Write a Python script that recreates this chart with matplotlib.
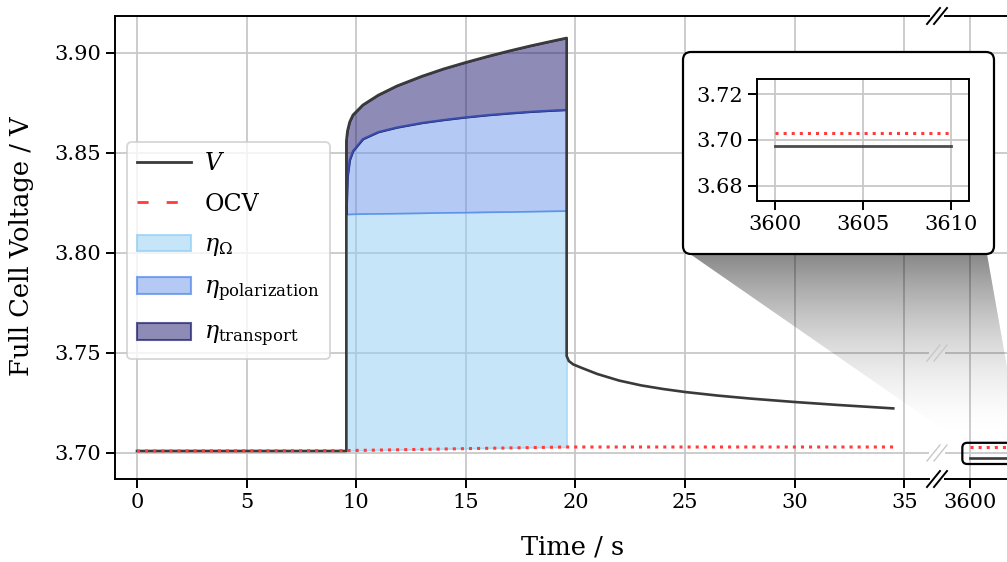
import numpy as np
import matplotlib.pyplot as plt
from matplotlib.colors import to_rgba
from matplotlib.lines import Line2D
from matplotlib.patches import FancyBboxPatch, Patch, Polygon

plt.rcParams['font.family'] = 'DejaVu Serif'
plt.rcParams['mathtext.fontset'] = 'dejavuserif'

# rest before the pulse
t_rest = [0.0, 9.55]
v_rest = [3.701, 3.701]

# current pulse: cell voltage and overpotential boundaries
t_pulse = [9.55, 9.6, 9.7, 9.85, 10.3, 11.0, 11.85, 13.0, 14.0, 15.0, 16.0, 17.0, 18.0, 19.0, 19.6]
v_pulse = [3.856, 3.861, 3.8655, 3.869, 3.874, 3.8789, 3.8835, 3.8884, 3.8921, 3.8953, 3.8983, 3.9011, 3.9037, 3.9061, 3.9075]
pol_pulse = [3.8195, 3.838, 3.8465, 3.851, 3.857, 3.8605, 3.8628, 3.8651, 3.8666, 3.8679, 3.869, 3.8699, 3.8707, 3.8713, 3.8716]
ohm_pulse = [3.8195, 3.8195, 3.8195, 3.8196, 3.8197, 3.8198, 3.8199, 3.8201, 3.8203, 3.8204, 3.8206, 3.8207, 3.8209, 3.8211, 3.8212]
ocv_pulse = [3.7012, 3.7012, 3.7012, 3.7013, 3.7014, 3.7015, 3.7017, 3.7019, 3.7021, 3.7023, 3.7025, 3.7026, 3.7028, 3.7029, 3.7030]

# relaxation after the pulse
t_relax = [19.6, 19.7, 19.9, 20.3, 21.0, 22.0, 23.0, 24.0, 25.0, 26.5, 28.0, 30.0, 32.0, 34.5]
v_relax = [3.7485, 3.746, 3.7443, 3.7425, 3.7395, 3.7362, 3.7338, 3.732, 3.7305, 3.7287, 3.7272, 3.7255, 3.724, 3.7223]

# open circuit voltage
t_ocv = [0.0, 9.55, 19.6, 34.5]
ocv = [3.701, 3.7012, 3.703, 3.703]

# one hour later
t_long = [3600, 3610]
v_long = [3.6974, 3.6974]
ocv_long = [3.7032, 3.7032]

c_v = '#3a3a3a'
c_ocv = '#ff3b3b'
c_ohm = '#8ecdf3'
c_pol = '#6a95e8'
c_tra = '#1e1a6e'

W, H = 1007, 562
fig = plt.figure(figsize=(W / 100, H / 100), dpi=100)


def px(x0, y0, x1, y1):
    return [x0 / W, 1 - y1 / H, (x1 - x0) / W, (y1 - y0) / H]


ax = fig.add_axes(px(115, 16, 929, 479))
ax2 = fig.add_axes(px(945, 16, 1120, 479))

t_v = t_rest + t_pulse + t_relax
v_v = v_rest + v_pulse + v_relax

ax.fill_between(t_pulse, ocv_pulse, ohm_pulse, facecolor=to_rgba(c_ohm, 0.5),
                edgecolor=to_rgba(c_ohm, 0.6), lw=1.2, zorder=2)
ax.fill_between(t_pulse, ohm_pulse, pol_pulse, facecolor=to_rgba(c_pol, 0.5),
                edgecolor=to_rgba('#4f86ea', 0.8), lw=1.2, zorder=2)
ax.fill_between(t_pulse, pol_pulse, v_pulse, facecolor=to_rgba(c_tra, 0.5),
                edgecolor=to_rgba('#1a1a4a', 0.9), lw=1.2, zorder=2)
ax.plot(t_pulse, pol_pulse, color='#3a4cb0', lw=1.4, zorder=2.5)
ax.plot(t_v, v_v, color=c_v, lw=1.9, zorder=3)
ax.plot(t_ocv, ocv, color=c_ocv, lw=2.2, ls=':', zorder=3)

ax2.plot(t_long, v_long, color=c_v, lw=1.9, zorder=3)
ax2.plot(t_long, ocv_long, color=c_ocv, lw=2.2, ls=':', zorder=3)

yticks = [3.70, 3.75, 3.80, 3.85, 3.90]
for a in (ax, ax2):
    a.set_ylim(3.687, 3.9185)
    a.set_yticks(yticks)
    a.grid(True, color='#c8c8c8', lw=1.3)
    a.set_axisbelow(True)
    a.tick_params(direction='out', length=6.5, width=1.4, labelsize=15)
    for s in a.spines.values():
        s.set_linewidth(1.4)

ax.set_xlim(-1.0036, 36.13)
ax.set_xticks([0, 5, 10, 15, 20, 25, 30, 35])
ax.set_yticklabels(['3.70', '3.75', '3.80', '3.85', '3.90'])
ax.spines['right'].set_visible(False)

ax2.set_xlim(3598.86, 3606.84)
ax2.set_xticks([3600])
ax2.spines['left'].set_visible(False)
ax2.tick_params(axis='y', left=False, labelleft=False)

fig.text(573 / W, 1 - 547 / H, 'Time / s', ha='center', va='center', fontsize=18.5)
fig.text(22 / W, 1 - 246 / H, 'Full Cell Voltage / V', ha='center', va='center',
         rotation=90, fontsize=18.5)

handles = [
    Line2D([], [], color=c_v, lw=2),
    Line2D([], [], color=c_ocv, lw=2, ls=(0, (4, 6.5))),
    Patch(facecolor=to_rgba(c_ohm, 0.5), edgecolor=to_rgba(c_ohm, 0.7), lw=1.5),
    Patch(facecolor=to_rgba(c_pol, 0.5), edgecolor=to_rgba('#4f86ea', 0.7), lw=1.5),
    Patch(facecolor=to_rgba(c_tra, 0.5), edgecolor=to_rgba('#1a1a6e', 0.7), lw=1.5),
]
labels = [r'$V$', 'OCV', r'$\eta_\Omega$', r'$\eta_\mathrm{polarization}$', r'$\eta_\mathrm{transport}$']
leg = ax.legend(handles, labels, loc='upper left', bbox_to_anchor=(0.0147, 0.728),
                borderaxespad=0, fontsize=17, handlelength=2.3, labelspacing=0.75,
                borderpad=0.42, handletextpad=0.55,
                framealpha=0.8, edgecolor='#cccccc', fancybox=True)
leg.get_frame().set_linewidth(1.3)

# axis break marks
def brk(y, color, lw):
    for cx in (933.5, 940.5):
        fig.add_artist(Line2D([(cx - 6.5) / 100, (cx + 6.5) / 100],
                              [(H - y - 8) / 100, (H - y + 8) / 100],
                              transform=fig.dpi_scale_trans, color=color, lw=lw, zorder=5))


brk(16, 'black', 1.4)
brk(479, 'black', 1.4)
brk(353, '#c8c8c8', 1.0)
brk(453, '#c8c8c8', 1.0)

# zoomed view of the long-time values
bx0, by0, bx1, by1 = 683, 52, 994, 254
fig.add_artist(FancyBboxPatch((bx0 / 100, (H - by1) / 100), (bx1 - bx0) / 100, (by1 - by0) / 100,
                              boxstyle='round,pad=0,rounding_size=0.08', transform=fig.dpi_scale_trans,
                              facecolor='white', edgecolor='black', lw=1.6, zorder=3))

axins = fig.add_axes(px(757, 79, 969, 201), zorder=4)
axins.plot(t_long, v_long, color=c_v, lw=2.0, alpha=0.9)
axins.plot(t_long, ocv_long, color=c_ocv, lw=2.2, ls=':')
axins.set_xlim(3598.96, 3611.04)
axins.set_ylim(3.6733, 3.7266)
axins.set_xticks([3600, 3605, 3610])
axins.set_yticks([3.68, 3.70, 3.72])
axins.set_yticklabels(['3.68', '3.70', '3.72'])
axins.grid(True, color='#c8c8c8', lw=1.3)
axins.set_axisbelow(True)
axins.tick_params(direction='out', length=6.5, width=1.4, labelsize=15)
for s in axins.spines.values():
    s.set_linewidth(1.4)

# marker around the long-time values
p0 = ax2.transData.transform((3599.65, 3.6945))
p1 = ax2.transData.transform((3602.3, 3.7051))
fig.add_artist(FancyBboxPatch((p0[0] / 100, p0[1] / 100), (p1[0] - p0[0]) / 100, (p1[1] - p0[1]) / 100,
                              boxstyle='round,pad=0,rounding_size=0.05', transform=fig.dpi_scale_trans,
                              facecolor='none', edgecolor='black', lw=1.6, zorder=3))

# shaded connector between marker and zoomed view
gax = fig.add_axes([0, 0, 1, 1], zorder=2)
gax.set_xlim(0, W)
gax.set_ylim(0, H)
gax.axis('off')
gax.patch.set_alpha(0)
grad = np.zeros((200, 1, 4))
f = np.linspace(0, 1, 200)
grad[:, 0, 3] = 0.47 * (1 - f) ** 1.8
poly = Polygon([(bx0 + 7, H - by1), (bx1 - 7, H - by1), (p1[0], p1[1]), (p0[0], p1[1])],
               closed=True, transform=gax.transData, facecolor='none', edgecolor='none')
gax.add_patch(poly)
img = gax.imshow(grad, extent=(bx0, p1[0] + 5, p1[1], H - by1), aspect='auto', origin='upper')
img.set_clip_path(poly)

fig.savefig('out.png', dpi=100)
